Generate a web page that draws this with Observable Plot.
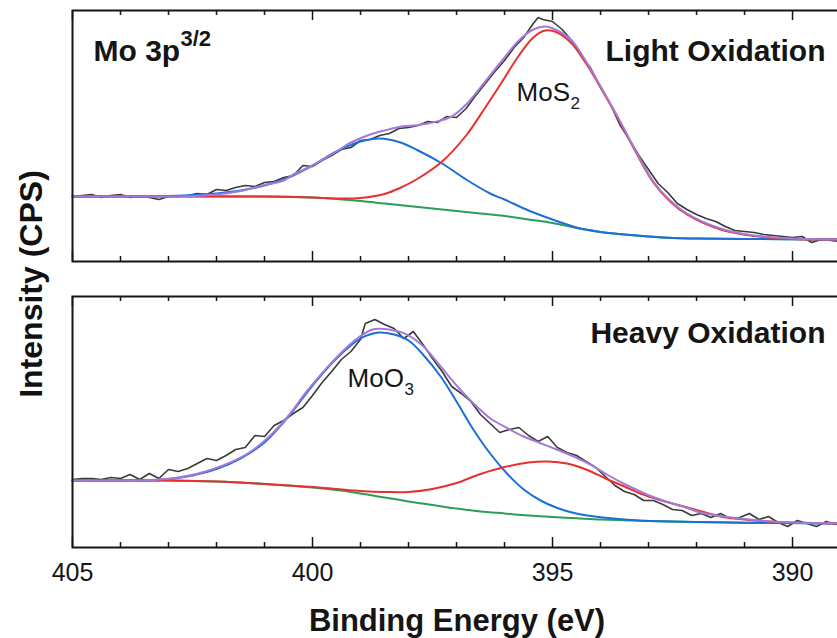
<!DOCTYPE html>
<html>
<head>
<meta charset="utf-8">
<script src="https://cdn.jsdelivr.net/npm/d3@7"></script>
<script src="https://cdn.jsdelivr.net/npm/@observablehq/plot@0.6"></script>
<style>
html, body { margin: 0; padding: 0; background: #fff; overflow: hidden; }
#chart { position: relative; width: 837px; height: 638px; font-family: "Liberation Sans", Arial, sans-serif; }
#chart svg { position: absolute; left: 0; }
#ylabel { position: absolute; left: 31px; top: 284px; transform: translate(-50%, -50%) rotate(-90deg);
  font-weight: bold; font-size: 32px; line-height: 32px; white-space: nowrap; color: #111; }
</style>
</head>
<body>
<div id="chart"><div id="ylabel">Intensity (CPS)</div></div>
<script>
// ---------- tick values ----------
const majorTicks = [405, 400, 395, 390];
const minorTicks = [404, 403, 402, 401, 399, 398, 397, 396, 394, 393, 392, 391];

// ---------- Light Oxidation panel: [binding energy (eV), intensity (a.u.)] ----------
const lightRaw = [[405,65],[404.8,66],[404.6,67],[404.4,64],[404.2,66],[404,67],[403.8,64],[403.6,65],[403.4,64],[403.2,62],[403,65],[402.8,65],[402.6,66],[402.4,68],[402.2,67],[402,72],[401.8,71],[401.6,74],[401.4,76],[401.2,75],[401,79],[400.8,80],[400.6,84],[400.4,86],[400.2,96],[400,95],[399.8,101],[399.6,106],[399.4,112],[399.2,114],[399,121],[398.8,122],[398.6,126],[398.4,128],[398.2,133],[398,134],[397.8,136],[397.6,140],[397.4,139],[397.2,145],[397,144],[396.8,153],[396.6,166],[396.4,178],[396.2,190],[396,201],[395.8,214],[395.6,224],[395.4,238],[395.3,244],[395.2,242],[395,240],[394.8,232],[394.6,221],[394.4,206],[394.2,193],[394,174],[393.8,158],[393.6,137],[393.4,122],[393.2,106],[393,92],[392.8,78],[392.6,69],[392.4,58],[392.2,52],[392,47],[391.8,43],[391.6,40],[391.4,35],[391.2,31],[391,30],[390.8,29],[390.6,27],[390.4,26],[390.2,25],[390,24],[389.8,25],[389.6,19],[389.4,22],[389.2,21],[389,20]];
const lightBackground = [[405,65],[402,65],[401,65],[400,64],[399.5,62.5],[399,60.5],[398.5,58],[398,55.5],[397.5,53],[397,50.5],[396.5,48],[396,45.5],[395.5,42],[395,38.5],[394.5,33.5],[394,29.5],[393.5,27],[393,25],[392.5,23.5],[392,23],[391,22.5],[389,22]];
const lightMoO3 = [[405,65],[403,65.5],[402.5,66.5],[402,68],[401.5,71],[401,76],[400.5,84],[400,96],[399.5,110],[399,120],[398.6,123],[398.2,119.5],[397.8,111],[397.3,98],[396.8,82],[396.3,68],[396,62],[395.5,51],[395,42],[394.5,34],[394,29.5],[393.5,27],[393,25],[392.5,23.5],[392,23],[391,22.5],[389,22]];
const lightMoS2 = [[405,65],[401,65],[400,64],[399.5,63],[399,63.5],[398.5,67.5],[398.2,73],[397.8,83],[397.3,100],[396.8,126],[396.4,154],[396.1,176],[395.7,206],[395.4,224],[395.15,231],[394.9,229],[394.6,218],[394.3,198],[393.95,170],[393.6,140],[393.25,108],[392.9,79],[392.55,60],[392.2,47],[391.5,32],[390.8,25.5],[390,22.5],[389,22]];
const lightEnvelope = [[405,65],[403,65],[402.5,65.5],[402,67],[401.5,70.5],[401,76.5],[400.6,81],[400.4,87],[400,96],[399.5,110],[399.2,119],[398.8,127],[398.5,131],[398.2,134.5],[397.8,136.5],[397.5,139],[397.1,145],[396.8,157],[396.4,180],[396.1,198],[395.7,221],[395.4,232],[395.15,235],[394.9,231],[394.6,221],[394.3,200],[393.95,171],[393.6,141],[393.25,109],[392.9,80],[392.55,61],[392.2,48],[391.5,33],[390.8,26],[390,23],[389,22]];

// ---------- Heavy Oxidation panel ----------
const heavyRaw = [[405,68],[404.8,69],[404.6,69],[404.4,68],[404.2,70],[404,69],[403.8,73],[403.6,68],[403.4,74],[403.2,69],[403,78],[402.8,76],[402.6,79],[402.4,84],[402.2,89],[402,87],[401.8,92],[401.6,98],[401.4,100],[401.2,112],[401,111],[400.8,122],[400.6,127],[400.4,134],[400.2,140],[400,152],[399.8,165],[399.6,176],[399.4,188],[399.2,196],[399,208],[398.9,224],[398.7,228],[398.5,223],[398.3,219],[398.1,209],[397.9,216],[397.7,203],[397.5,189],[397.3,176],[397.1,161],[396.9,154],[396.7,146],[396.5,133],[396.3,124],[396.1,115],[395.9,118],[395.7,120],[395.5,112],[395.3,106],[395.1,111],[394.9,100],[394.7,95],[394.5,92],[394.3,86],[394.1,80],[393.9,71],[393.7,62],[393.5,56],[393.3,53],[393.1,47],[392.9,47],[392.7,43],[392.5,38],[392.3,37],[392.1,32],[391.9,34],[391.7,30],[391.5,34],[391.3,29],[391.1,30],[390.9,34],[390.7,28],[390.5,31],[390.3,25],[390.1,21],[389.9,27],[389.7,24],[389.5,21],[389.3,26],[389.1,23],[389,27]];
const heavyBackground = [[405,67],[403,67],[402,66],[401,63.5],[400,60],[399.5,57.5],[399,54],[398.5,50],[398,46],[397.5,42.5],[397,39],[396.5,36],[396,34],[395.5,32],[395,30.5],[394.5,29.3],[394,28],[393,26.5],[392,25.5],[391,24.8],[389,24]];
const heavyMoO3 = [[405,67],[403.6,67],[403,68.5],[402.5,72],[402,78.5],[401.5,89],[401,105],[400.5,131],[400,162],[399.5,189],[399,209],[398.62,215],[398.3,213],[398,207],[397.7,193],[397.33,171],[397,146],[396.65,118],[396.3,94],[395.95,74],[395.6,58],[395.25,47],[394.9,39.5],[394.55,34.5],[394.2,31.5],[393.85,29.5],[393.2,27],[392,25.5],[391,24.8],[389,24]];
const heavyMoS2 = [[405,67],[403,67],[402,66],[401,63.5],[400,60.5],[399.5,58.5],[399,56.5],[398.5,55.5],[398,55.5],[397.5,58.5],[397,64.5],[396.5,73.5],[396,80.5],[395.5,85],[395.1,86],[394.7,84],[394.3,78],[393.85,68],[393.5,61],[393.17,54],[392.8,48],[392.5,44],[392,37.5],[391.5,31],[391,28],[390.5,26],[390,25],[389,24]];
const heavyEnvelope = [[405,67],[403.6,67],[402.9,69.3],[402.23,76],[401.52,89.3],[401.19,99.3],[400.83,114.3],[400.48,133],[400.15,154.3],[399.8,174.3],[399.44,193],[399.1,208],[398.75,218],[398.58,218.7],[398.3,217],[398.02,212.7],[397.69,201],[397.33,181],[396.98,161],[396.65,144.3],[396.3,129.3],[395.94,119.3],[395.6,111],[395.25,104.3],[394.9,97.7],[394.56,91],[394.2,82.7],[393.85,72.5],[393.5,63.5],[393.17,56],[392.9,50.5],[392.6,45.5],[392.2,39.5],[391.92,35],[391.5,31.5],[391.23,29.7],[390.52,26.3],[390,25],[389,24.3]];

// ---------- labels ----------
const lightPeakLabels = [{E: 395.75, I: 161, name: "MoS", sub: "2"}];
const heavyPeakLabels = [{E: 399.27, I: 161, name: "MoO", sub: "3"}];

const FONT = '"Liberation Sans", Arial, sans-serif';
const C = {raw: "#3a3a3a", env: "#a47ad9", red: "#e8302d", blue: "#1c6fd8", green: "#2a9d5a", ink: "#151515"};
const xy = {x: d => d[0], y: d => d[1]};

function panel(o) {
  const H = o.height - 10 - o.marginBottom;
  return Plot.plot({
    width: 837, height: o.height,
    marginTop: 10, marginBottom: o.marginBottom, marginLeft: 72, marginRight: -4,
    x: {domain: [405, 388.98], axis: o.showX ? undefined : null},
    y: {domain: [0, 251], axis: null},
    style: {fontFamily: FONT, background: "transparent", overflow: "visible", color: C.ink},
    marks: [
      Plot.line(o.raw, {...xy, stroke: C.raw, strokeWidth: 1.6}),
      Plot.line(o.bg, {...xy, stroke: C.green, strokeWidth: 2, curve: "catmull-rom"}),
      Plot.line(o.moo3, {...xy, stroke: C.blue, strokeWidth: 2, curve: "catmull-rom"}),
      Plot.line(o.mos2, {...xy, stroke: C.red, strokeWidth: 2, curve: "catmull-rom"}),
      Plot.line(o.env, {...xy, stroke: C.env, strokeWidth: 2, curve: "catmull-rom"}),
      Plot.tickX(minorTicks, {x: d => d, insetTop: H - 5, stroke: C.ink, strokeWidth: 1.5}),
      Plot.tickX(minorTicks, {x: d => d, insetBottom: H - 5, stroke: C.ink, strokeWidth: 1.5}),
      Plot.tickX(majorTicks, {x: d => d, insetTop: H - 10, stroke: C.ink, strokeWidth: 1.5}),
      Plot.tickX(majorTicks, {x: d => d, insetBottom: H - 10, stroke: C.ink, strokeWidth: 1.5}),
      Plot.frame({stroke: C.ink, strokeWidth: 2}),
      Plot.text(o.peaks, {x: "E", y: "I", text: "name", textAnchor: "start", lineAnchor: "bottom", fontSize: 26, fill: C.ink}),
      Plot.text(o.peaks, {x: "E", y: "I", text: "sub", dx: o.subDx, dy: 8, textAnchor: "start", lineAnchor: "bottom", fontSize: 17, fill: C.ink}),
      Plot.text([o.title], {text: d => d, frameAnchor: "top-right", textAnchor: "end", lineAnchor: "bottom", dx: -16, dy: o.titleDy, fontSize: 30, fontWeight: "bold", fill: C.ink}),
      ...(o.extra || [])
    ]
  });
}

const topPanel = panel({
  height: 270, marginBottom: 9, showX: false,
  raw: lightRaw, bg: lightBackground, moo3: lightMoO3, mos2: lightMoS2, env: lightEnvelope,
  peaks: lightPeakLabels, subDx: 54, title: "Light Oxidation", titleDy: 50,
  extra: [
    Plot.text(["Mo 3p"], {text: d => d, frameAnchor: "top-left", textAnchor: "start", lineAnchor: "bottom", dx: 21, dy: 50, fontSize: 30, fontWeight: "bold", fill: C.ink}),
    Plot.text(["3/2"], {text: d => d, frameAnchor: "top-left", textAnchor: "start", lineAnchor: "bottom", dx: 108, dy: 35, fontSize: 22, fontWeight: "bold", fill: C.ink})
  ]
});

const bottomPanel = panel({
  height: 352, marginBottom: 91, showX: true,
  raw: heavyRaw, bg: heavyBackground, moo3: heavyMoO3, mos2: heavyMoS2, env: heavyEnvelope,
  peaks: heavyPeakLabels, subDx: 57, title: "Heavy Oxidation", titleDy: 46,
  extra: [
    Plot.axisX(majorTicks, {anchor: "bottom", tickSize: 0, tickPadding: 16, fontSize: 25, tickFormat: d => String(d), label: null}),
    Plot.text(["Binding Energy (eV)"], {text: d => d, frameAnchor: "bottom", lineAnchor: "bottom", dy: 83, fontSize: 31, fontWeight: "bold", fill: C.ink})
  ]
});

topPanel.style.top = "0px";
bottomPanel.style.top = "286px";
const chart = document.getElementById("chart");
chart.appendChild(topPanel);
chart.appendChild(bottomPanel);
</script>
</body>
</html>
